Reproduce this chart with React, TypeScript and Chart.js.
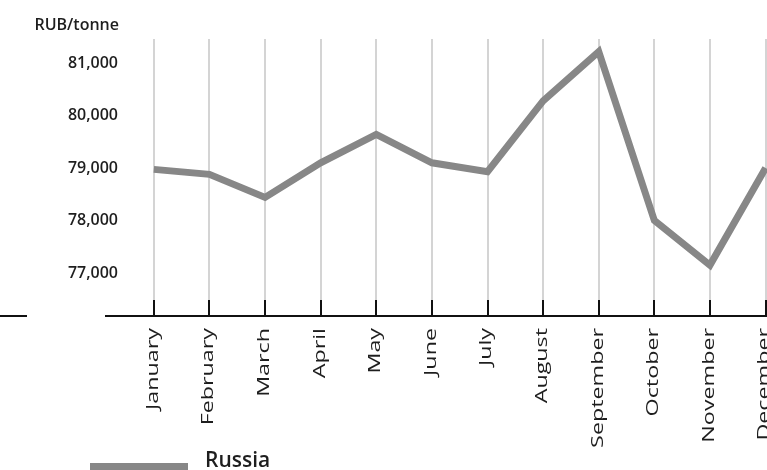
import React, { useEffect, useRef } from "react";
import { Chart, registerables } from "chart.js";

Chart.register(...registerables);

// Monthly price, RUB per tonne
const months = [
  "January", "February", "March", "April", "May", "June",
  "July", "August", "September", "October", "November", "December",
];
const russiaPrices = [
  78975, 78880, 78440, 79100, 79640, 79100,
  78930, 80280, 81220, 78000, 77150, 79000,
];
const yTicks = [77000, 78000, 79000, 80000, 81000];
const seriesName = "Russia";
const unitLabel = "RUB/tonne";
const yMin = 76180;
const yMax = 81460;

const FONT = "'Open Sans', 'Noto Sans', sans-serif";
const LINE_COLOR = "#878787";
const TEXT_COLOR = "#1e1e1e";

const CANVAS_W = 800;
const CANVAS_H = 470;

// Axis line, upward tick marks, stretched month labels, unit title and legend
const decorations = {
  id: "decorations",
  afterDraw(chart: any) {
    const ctx = chart.ctx as CanvasRenderingContext2D;
    const x = chart.scales.x;
    const area = chart.chartArea;
    const axisY = area.bottom;
    ctx.save();

    // baseline
    ctx.strokeStyle = "#111";
    ctx.lineWidth = 2;
    ctx.beginPath();
    ctx.moveTo(105, axisY);
    ctx.lineTo(CANVAS_W, axisY);
    ctx.moveTo(0, axisY);
    ctx.lineTo(27, axisY);
    ctx.stroke();

    // tick marks pointing up into the plot
    ctx.beginPath();
    x.ticks.forEach((_t: any, i: number) => {
      const px = Math.round(x.getPixelForTick(i));
      ctx.moveTo(px, axisY - 16);
      ctx.lineTo(px, axisY);
    });
    ctx.stroke();

    // month labels, rotated and stretched along the reading direction
    ctx.fillStyle = TEXT_COLOR;
    ctx.font = `400 17px ${FONT}`;
    ctx.textAlign = "right";
    ctx.textBaseline = "middle";
    chart.data.labels.forEach((lab: string, i: number) => {
      const px = x.getPixelForValue(i);
      ctx.save();
      ctx.translate(px - 1, axisY + 12);
      ctx.rotate(-Math.PI / 2);
      ctx.scale(1.37, 1);
      ctx.fillText(lab, 0, 0);
      ctx.restore();
    });

    // unit title above the value labels
    ctx.font = `600 16px ${FONT}`;
    ctx.textAlign = "right";
    ctx.textBaseline = "middle";
    ctx.fillText(unitLabel, 119, 25);

    // legend
    const ds = chart.data.datasets[0];
    ctx.fillStyle = ds.borderColor;
    ctx.fillRect(90, 463, 98, 8);
    ctx.fillStyle = TEXT_COLOR;
    ctx.font = `600 21px ${FONT}`;
    ctx.textAlign = "left";
    ctx.textBaseline = "alphabetic";
    ctx.fillText(ds.label, 205, 467);

    ctx.restore();
  },
};

export default function App() {
  const ref = useRef<HTMLCanvasElement>(null);

  useEffect(() => {
    if (!ref.current) return;
    const chart = new Chart(ref.current, {
      type: "line",
      data: {
        labels: months,
        datasets: [
          {
            label: seriesName,
            data: russiaPrices,
            borderColor: LINE_COLOR,
            backgroundColor: LINE_COLOR,
            borderWidth: 7,
            pointRadius: 0,
            pointHoverRadius: 0,
            tension: 0,
            borderJoinStyle: "miter",
            fill: false,
          },
        ],
      },
      plugins: [decorations],
      options: {
        responsive: false,
        animation: false,
        layout: { padding: { top: 39, right: 6.6, left: 0, bottom: 0 } },
        plugins: {
          legend: { display: false },
          tooltip: { enabled: false },
        },
        scales: {
          x: {
            type: "category",
            offset: true,
            grid: {
              display: true,
              offset: false,
              color: "#d4d4d4",
              lineWidth: 2,
              drawTicks: false,
            },
            border: { display: false },
            ticks: { display: false },
            afterFit(scale: any) {
              scale.height = CANVAS_H - 316;
            },
          },
          y: {
            type: "linear",
            min: yMin,
            max: yMax,
            grid: { display: false, drawTicks: false },
            border: { display: false },
            ticks: {
              padding: 8,
              color: TEXT_COLOR,
              font: { family: FONT, size: 16, weight: 600 },
              callback: (v: any) => Number(v).toLocaleString("en-US"),
            },
            afterBuildTicks(scale: any) {
              scale.ticks = yTicks.map((v) => ({ value: v }));
            },
            afterFit(scale: any) {
              scale.width = 126;
            },
          },
        },
      },
    });
    return () => chart.destroy();
  }, []);

  return (
    <div
      style={{
        position: "fixed",
        left: 0,
        top: 0,
        width: 767,
        height: 470,
        overflow: "hidden",
        background: "#fff",
      }}
    >
      <canvas
        ref={ref}
        width={CANVAS_W}
        height={CANVAS_H}
        style={{ display: "block", width: CANVAS_W, height: CANVAS_H }}
      />
    </div>
  );
}
